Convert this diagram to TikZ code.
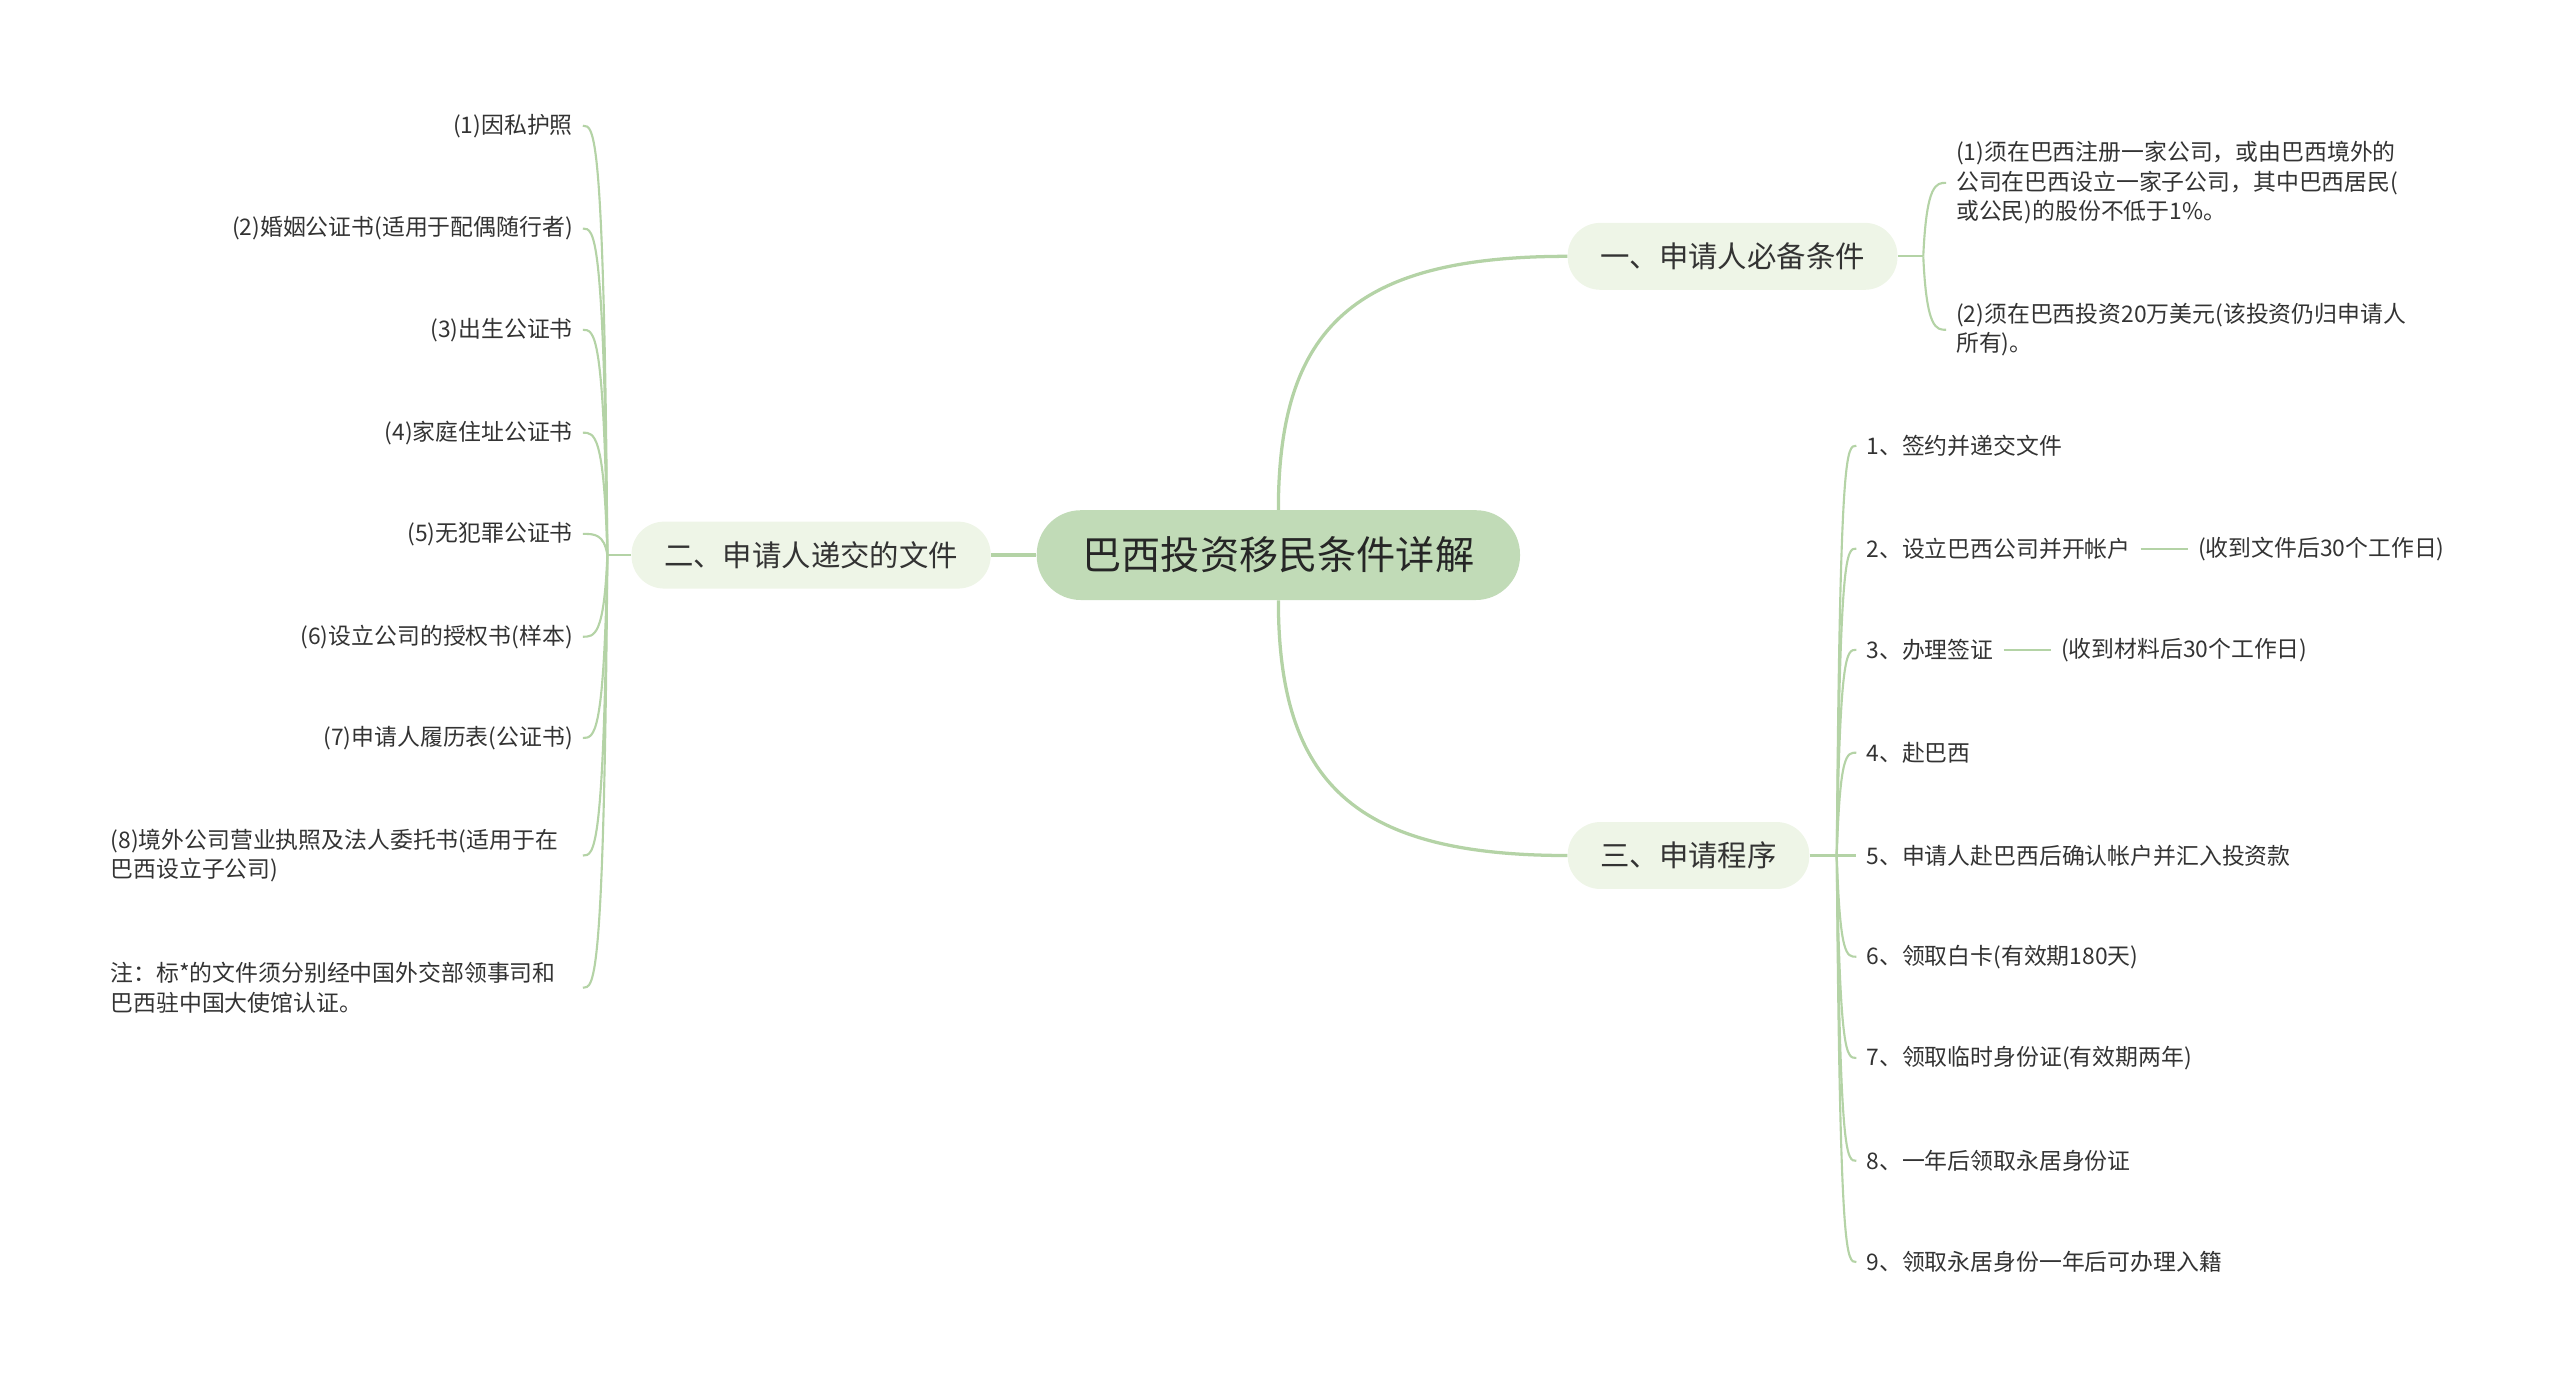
\documentclass[tikz,border=0pt]{standalone}
\usepackage{fontspec}
\newfontfamily\cjk{Noto Sans CJK SC}
\usetikzlibrary{positioning}
\definecolor{rootfill}{HTML}{C1DBB7}
\definecolor{topicfill}{HTML}{EEF5E7}
\definecolor{linkgreen}{HTML}{B4D3A6}
\definecolor{ink}{HTML}{333333}

\begin{document}
\begin{tikzpicture}[x=1pt,y=-1pt,
  root/.style={fill=rootfill, rounded corners=27pt, minimum height=55pt, inner xsep=28pt, font=\cjk\fontsize{24}{28}\selectfont, text=black!85},
  topic/.style={fill=topicfill, rounded corners=20pt, minimum height=41pt, inner xsep=20pt, font=\cjk\fontsize{18}{22}\selectfont, text=ink},
  leaf/.style={inner xsep=6pt, inner ysep=2pt, align=left, font=\cjk\fontsize{14}{18}\selectfont, text=ink},
  link/.style={draw=linkgreen, line width=2pt},
  twig/.style={draw=linkgreen, line width=1.3pt}]
\useasboundingbox (0,0) rectangle (1568,851);

\node[root] (root) at (783,340) {巴西投资移民条件详解};
\node[topic, anchor=west] (b1) at (960,157) {一、申请人必备条件};
\node[topic, anchor=east] (b2) at (607,340) {二、申请人递交的文件};
\node[topic, anchor=west] (b3) at (960,524) {三、申请程序};

\coordinate (j1) at (1178,157);
\coordinate (j2) at (372,340);
\coordinate (j3) at (1125,524);

\node[leaf, anchor=west] (c1) at (1192,112) {(1)须在巴西注册一家公司，或由巴西境外的\\公司在巴西设立一家子公司，其中巴西居民(\\或公民)的股份不低于1\%。};
\node[leaf, anchor=west] (c2) at (1192,202) {(2)须在巴西投资20万美元(该投资仍归申请人\\所有)。};

\node[leaf, anchor=east] (l1) at (357,77) {(1)因私护照};
\node[leaf, anchor=east] (l2) at (357,140) {(2)婚姻公证书(适用于配偶随行者)};
\node[leaf, anchor=east] (l3) at (357,202) {(3)出生公证书};
\node[leaf, anchor=east] (l4) at (357,265) {(4)家庭住址公证书};
\node[leaf, anchor=east] (l5) at (357,327) {(5)无犯罪公证书};
\node[leaf, anchor=east] (l6) at (357,390) {(6)设立公司的授权书(样本)};
\node[leaf, anchor=east] (l7) at (357,452) {(7)申请人履历表(公证书)};
\node[leaf, anchor=east, text width=283pt] (l8) at (357,524) {(8)境外公司营业执照及法人委托书(适用于在\\巴西设立子公司)};
\node[leaf, anchor=east, text width=283pt] (l9) at (357,605) {注：标*的文件须分别经中国外交部领事司和\\巴西驻中国大使馆认证。};

\node[leaf, anchor=west] (s1) at (1137,273) {1、签约并递交文件};
\node[leaf, anchor=west] (s2) at (1137,336) {2、设立巴西公司并开帐户};
\node[leaf, anchor=west] (s3) at (1137,398) {3、办理签证};
\node[leaf, anchor=west] (s4) at (1137,461) {4、赴巴西};
\node[leaf, anchor=west] (s5) at (1137,524) {5、申请人赴巴西后确认帐户并汇入投资款};
\node[leaf, anchor=west] (s6) at (1137,586) {6、领取白卡(有效期180天)};
\node[leaf, anchor=west] (s7) at (1137,648) {7、领取临时身份证(有效期两年)};
\node[leaf, anchor=west] (s8) at (1137,711) {8、一年后领取永居身份证};
\node[leaf, anchor=west] (s9) at (1137,773) {9、领取永居身份一年后可办理入籍};
\node[leaf, right=29pt of s2] (n2) {(收到文件后30个工作日)};
\node[leaf, right=29pt of s3] (n3) {(收到材料后30个工作日)};

\draw[link] (root.west) -- (b2.east);
\draw[link] (root.north) .. controls (783,200) and (830,157) .. (b1.west);
\draw[link] (root.south) .. controls (783,480) and (830,524) .. (b3.west);

\draw[twig] (b1.east) -- (j1);
\draw[twig] (j1) .. controls (1180,112) and (1186,112) .. (c1.west);
\draw[twig] (j1) .. controls (1180,202) and (1186,202) .. (c2.west);

\draw[twig] (b2.west) -- (j2);
\draw[twig] (j2) .. controls (370,77) and (364,77) .. (l1.east);
\draw[twig] (j2) .. controls (370,140) and (364,140) .. (l2.east);
\draw[twig] (j2) .. controls (370,202) and (364,202) .. (l3.east);
\draw[twig] (j2) .. controls (370,265) and (364,265) .. (l4.east);
\draw[twig] (j2) .. controls (370,327) and (364,327) .. (l5.east);
\draw[twig] (j2) .. controls (370,390) and (364,390) .. (l6.east);
\draw[twig] (j2) .. controls (370,452) and (364,452) .. (l7.east);
\draw[twig] (j2) .. controls (370,524) and (364,524) .. (l8.east);
\draw[twig] (j2) .. controls (370,605) and (364,605) .. (l9.east);

\draw[twig] (b3.east) -- (j3);
\draw[twig] (j3) .. controls (1127,273) and (1131,273) .. (s1.west);
\draw[twig] (j3) .. controls (1127,336) and (1131,336) .. (s2.west);
\draw[twig] (j3) .. controls (1127,398) and (1131,398) .. (s3.west);
\draw[twig] (j3) .. controls (1127,461) and (1131,461) .. (s4.west);
\draw[twig] (j3) -- (s5.west);
\draw[twig] (j3) .. controls (1127,586) and (1131,586) .. (s6.west);
\draw[twig] (j3) .. controls (1127,648) and (1131,648) .. (s7.west);
\draw[twig] (j3) .. controls (1127,711) and (1131,711) .. (s8.west);
\draw[twig] (j3) .. controls (1127,773) and (1131,773) .. (s9.west);
\draw[twig] (s2) -- (n2);
\draw[twig] (s3) -- (n3);
\end{tikzpicture}
\end{document}
